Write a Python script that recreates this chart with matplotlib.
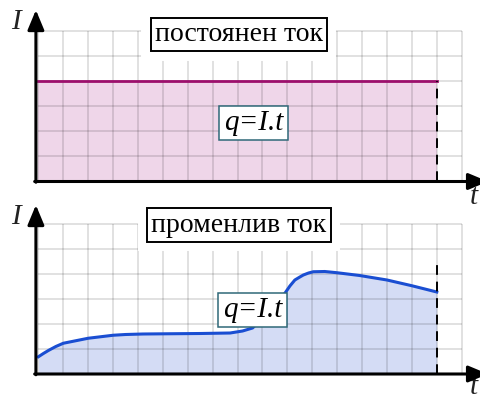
import numpy as np
import matplotlib.pyplot as plt

# constant current (top) and varying current (bottom), in grid units
t_const = [0, 16]
i_const = [4, 4]

t_var = [0, 0.2, 0.4, 0.7, 1, 1.5, 2, 2.5, 3, 3.5, 4.2, 5.3, 6.5, 7.7, 8.2, 8.6,
         9.1, 9.5, 9.9, 10.1, 10.3, 10.5, 10.64, 10.85, 11.04, 11.5, 12, 12.9,
         14, 15, 16]
i_var = [0.67, 0.8, 0.92, 1.08, 1.21, 1.31, 1.41, 1.47, 1.53, 1.56, 1.58, 1.59,
         1.6, 1.62, 1.7, 1.82, 2.3, 2.8, 3.21, 3.5, 3.74, 3.86, 3.94, 4.02,
         4.07, 4.08, 4.03, 3.92, 3.74, 3.51, 3.26]

titles = ['постоянен ток', 'променлив ток']
formula = 'q=I.t'

fig = plt.figure(figsize=(4.81, 4.0), dpi=100)

serif = ['Liberation Serif', 'DejaVu Serif']


def panel(ax, title, title_y, q_xy, dash_top, tx, ty):
    ax.set_xlim(-38.4 / 24.9, (481 - 38.4) / 24.9)
    ax.axis('off')

    # grid
    gx = np.arange(0, 18)
    gy = np.arange(0, 7)
    ax.vlines(gx, 0, 6, color='black', alpha=0.14, lw=1.2, zorder=2)
    ax.hlines(gy, 0, 17, color='black', alpha=0.14, lw=1.2, zorder=2)

    # end of interval
    ax.plot([16, 16], [0, dash_top], color='black', lw=1.4,
            linestyle=(0, (5, 3.5)), zorder=3)

    # axes with arrows
    ax.annotate('', xy=(-0.1, ty), xytext=(-0.1, -0.05), annotation_clip=False,
                arrowprops=dict(arrowstyle='-|>,head_length=0.6,head_width=0.25',
                                lw=2.2, color='black', mutation_scale=20,
                                shrinkA=0, shrinkB=0), zorder=4)
    ax.annotate('', xy=(tx, -0.02), xytext=(-0.15, -0.02), annotation_clip=False,
                arrowprops=dict(arrowstyle='-|>,head_length=0.6,head_width=0.25',
                                lw=2.2, color='black', mutation_scale=20,
                                shrinkA=0, shrinkB=0), zorder=4)

    # title box: white halo, then framed box
    for edge, pad in [('white', 0.45), ('black', 0.15)]:
        ax.text(8.05, title_y, title, family=serif, fontsize=20,
                ha='center', va='center', zorder=5,
                color='black' if edge == 'black' else 'none',
                bbox=dict(boxstyle='square,pad=%s' % pad, fc='white',
                          ec=edge, lw=1.4))

    ax.text(q_xy[0], q_xy[1], formula, family=serif, style='italic',
            fontsize=21, ha='center', va='center', zorder=5,
            bbox=dict(boxstyle='square,pad=0.15', fc='white',
                      ec='#2f6878', lw=1.1))


# top panel
ax1 = fig.add_axes([0, 0.5, 1, 0.5])
ax1.set_ylim(-19 / 25, 181 / 25)
ax1.fill_between(t_const, 0, i_const, color='#efd6e9', lw=0, zorder=1)
ax1.plot(t_const, i_const, color='#9c0f6c', lw=2.0, zorder=3)
panel(ax1, titles[0], (181 - 34.5) / 25, ((253.5 - 38.4) / 24.9, (181 - 123) / 25),
      4, 18.06, 6.84)
ax1.text(-0.9, 6.37, 'I', family=serif, style='italic', fontsize=21,
         ha='center', va='center', color='#222222')
ax1.text(17.5, -0.62, 't', family=serif, style='italic', fontsize=21,
         ha='center', va='center', color='#222222')

# bottom panel
ax2 = fig.add_axes([0, 0, 1, 0.5])
ax2.set_ylim(-26.5 / 25, 173.5 / 25)
ax2.fill_between(t_var, 0, i_var, color='#d4dcf5', lw=0, zorder=1)
ax2.plot(t_var, i_var, color='#1a4ed2', lw=2.2, zorder=3)
panel(ax2, titles[1], (373.5 - 225) / 25, ((252.5 - 38.4) / 24.9, (373.5 - 310) / 25),
      4.47, 18.06, 6.74)
ax2.text(-0.9, 6.28, 'I', family=serif, style='italic', fontsize=21,
         ha='center', va='center', color='#222222')
ax2.text(17.5, -0.55, 't', family=serif, style='italic', fontsize=21,
         ha='center', va='center', color='#222222')

fig.savefig('out.png', dpi=100)
